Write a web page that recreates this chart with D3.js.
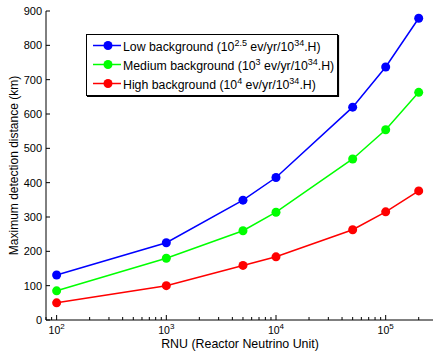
<!DOCTYPE html>
<html>
<head>
<meta charset="utf-8">
<script src="https://cdn.jsdelivr.net/npm/d3@7.9.0/dist/d3.min.js"></script>
<style>
  body { margin: 0; background: #fff; }
  svg { font-family: "Liberation Sans", Arial, sans-serif; }
</style>
</head>
<body>
<svg width="434" height="351"></svg>
<script>
// RNU values (x) and max detection distance (km) per background level
const rnu = [100, 1000, 5000, 10000, 50000, 100000, 200000];
const lowBg = [131, 225, 349, 415, 620, 737, 879];
const medBg = [85, 180, 260, 314, 469, 554, 663];
const highBg = [50, 100, 159, 184, 263, 315, 376];
const yTicks = [0, 100, 200, 300, 400, 500, 600, 700, 800, 900];
const xDecades = [2, 3, 4, 5];

const series = [
  { name: 'Low background (10', exp: '2.5', color: '#0000ff', values: lowBg },
  { name: 'Medium background (10', exp: '3', color: '#00ff00', values: medBg },
  { name: 'High background (10', exp: '4', color: '#ff0000', values: highBg }
];

const svg = d3.select('svg');
const mLeft = 46, mRight = 433, mTop = 11, mBottom = 320;

const x = d3.scaleLog().domain([80, 270000]).range([mLeft, mRight]);
const y = d3.scaleLinear().domain([0, 900]).range([mBottom, mTop]);

// axes lines
svg.append('line').attr('x1', mLeft).attr('x2', mLeft).attr('y1', mTop).attr('y2', mBottom)
  .attr('stroke', '#000');
svg.append('line').attr('x1', mLeft).attr('x2', mRight).attr('y1', mBottom).attr('y2', mBottom)
  .attr('stroke', '#000');

// y ticks (inward)
yTicks.forEach(t => {
  svg.append('line').attr('x1', mLeft).attr('x2', mLeft + 4)
    .attr('y1', y(t)).attr('y2', y(t)).attr('stroke', '#000');
  svg.append('text').attr('x', mLeft - 4).attr('y', y(t) + 4)
    .attr('text-anchor', 'end').attr('font-size', 11).text(t);
});

// x minor ticks
for (let d = 1; d <= 5; d++) {
  for (let m = 1; m <= 9; m++) {
    const v = m * Math.pow(10, d);
    if (v < 80 || v > 270000) continue;
    const len = m === 1 ? 5 : 3;
    svg.append('line').attr('x1', x(v)).attr('x2', x(v))
      .attr('y1', mBottom).attr('y2', mBottom - len).attr('stroke', '#000');
  }
}

// x tick labels
xDecades.forEach(d => {
  const t = svg.append('text').attr('x', x(Math.pow(10, d))).attr('y', mBottom + 14)
    .attr('text-anchor', 'middle').attr('font-size', 10.5);
  t.append('tspan').text('10');
  t.append('tspan').attr('dy', -5).attr('font-size', 8).text(d);
});

// axis labels
svg.append('text').attr('x', 240).attr('y', 348)
  .attr('text-anchor', 'middle').attr('font-size', 12.4).text('RNU (Reactor Neutrino Unit)');
svg.append('text').attr('transform', `translate(18,${(mTop + mBottom) / 2}) rotate(-90)`)
  .attr('text-anchor', 'middle').attr('font-size', 12).text('Maximum detection distance (km)');

// lines and markers
const line = d3.line().x((d, i) => x(rnu[i])).y(d => y(d));
series.forEach(s => {
  svg.append('path').attr('d', line(s.values)).attr('fill', 'none')
    .attr('stroke', s.color).attr('stroke-width', 1.5);
  svg.selectAll(null).data(s.values).enter().append('circle')
    .attr('cx', (d, i) => x(rnu[i])).attr('cy', d => y(d)).attr('r', 4.5)
    .attr('fill', s.color);
});

// legend
const lg = svg.append('g');
lg.append('rect').attr('x', 86.5).attr('y', 34.5).attr('width', 251).attr('height', 61)
  .attr('fill', '#fff').attr('stroke', '#000');
lg.append('path').attr('d', 'M338.5,35V96.5H87').attr('fill', 'none')
  .attr('stroke', '#000').attr('stroke-width', 1.2);
series.forEach((s, i) => {
  const ly = 45.5 + i * 19;
  lg.append('line').attr('x1', 93).attr('x2', 121).attr('y1', ly).attr('y2', ly)
    .attr('stroke', s.color).attr('stroke-width', 1.5);
  lg.append('circle').attr('cx', 108).attr('cy', ly).attr('r', 4.5).attr('fill', s.color);
  const t = lg.append('text').attr('x', 123).attr('y', ly + 5).attr('font-size', 12.3);
  t.append('tspan').text(s.name);
  t.append('tspan').attr('dy', -5).attr('font-size', 9).text(s.exp);
  t.append('tspan').attr('dy', 5).text(' ev/yr/10');
  t.append('tspan').attr('dy', -5).attr('font-size', 9).text('34');
  t.append('tspan').attr('dy', 5).text('.H)');
});
</script>
</body>
</html>
